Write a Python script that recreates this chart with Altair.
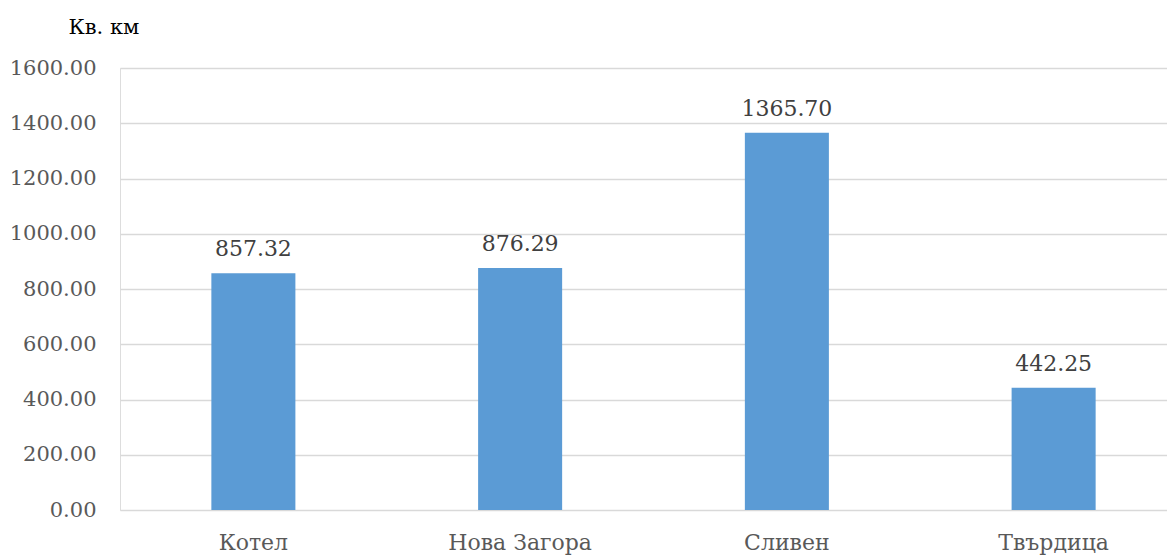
import altair as alt
import pandas as pd

categories = ["Котел", "Нова Загора", "Сливен", "Твърдица"]
values = [857.32, 876.29, 1365.70, 442.25]
labels = ["857.32", "876.29", "1365.70", "442.25"]
y_ticks = [0, 200, 400, 600, 800, 1000, 1200, 1400, 1600]

df = pd.DataFrame({"cat": categories, "val": values, "lab": labels})

FONT = "DejaVu Serif"
FS = 22

x_enc = alt.X(
    "cat:N",
    sort=categories,
    scale=alt.Scale(range=[0, 1067], paddingInner=0.685, paddingOuter=0.3425),
    axis=alt.Axis(
        title=None,
        labelAngle=0,
        labelFont=FONT,
        labelFontSize=FS,
        labelColor="#595959",
        labelPadding=22,
        labelBaseline="top",
        ticks=False,
        tickSize=0,
        domain=False,
        grid=False,
    ),
)

y_enc = alt.Y(
    "val:Q",
    scale=alt.Scale(domain=[0, 1600], nice=False),
    axis=alt.Axis(
        title="Кв. км",
        titleFont=FONT,
        titleFontSize=21,
        titleFontWeight="normal",
        titleColor="#000000",
        titleAngle=0,
        titleAlign="left",
        titleBaseline="alphabetic",
        titleX=-52,
        titleY=-35,
        values=y_ticks,
        format=".2f",
        labelFont=FONT,
        labelFontSize=21,
        labelColor="#595959",
        labelPadding=24,
        ticks=False,
        tickSize=0,
        domain=False,
        grid=True,
        gridColor="#d9d9d9",
        gridWidth=1.4,
    ),
)

bars = alt.Chart(df).mark_bar(color="#5b9bd5").encode(x=x_enc, y=y_enc)

text = alt.Chart(df).mark_text(
    font=FONT,
    fontSize=FS,
    color="#404040",
    baseline="alphabetic",
    align="center",
    dy=-17,
).encode(x=alt.X("cat:N", sort=categories), y="val:Q", text="lab:N")

chart = (
    alt.layer(bars, text)
    .properties(
        width=1047,
        height=442,
        autosize=alt.AutoSizeParams(type="none"),
        padding={"left": 112, "top": 60, "right": 0, "bottom": 48},
    )
    .configure_view(stroke=None)
    .configure(background="white")
)

chart.save("out.html", embed_options={"renderer": "svg", "actions": False})
